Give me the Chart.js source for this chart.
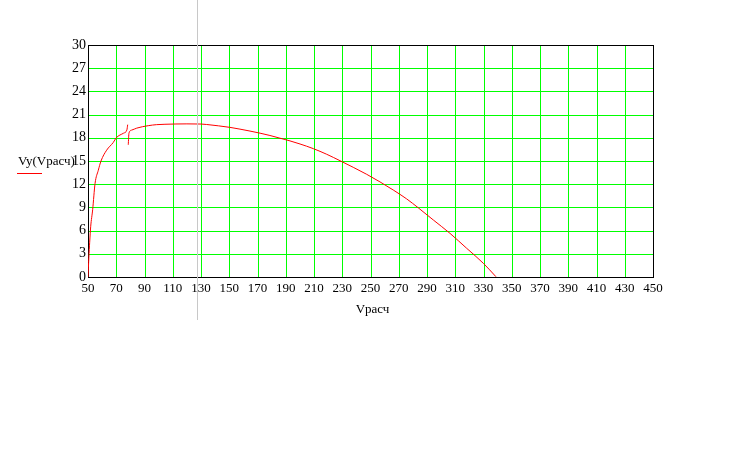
<!DOCTYPE html>
<html>
<head>
<meta charset="utf-8">
<script src="https://cdn.jsdelivr.net/npm/chart.js@4/dist/chart.umd.min.js"></script>
<style>
  body { margin: 0; background: #fff; }
  #wrap { width: 734px; height: 450px; }
</style>
</head>
<body>
<div id="wrap"><canvas id="grafico" width="734" height="450"></canvas></div>
<script>
// dados: Vy em função de Vрасч (duas partes da curva)
const vRasch1 = [50, 50.6, 51.2, 51.9, 53.3, 55, 57.3, 59.2, 63.2, 67.9, 70, 75.2, 77.5, 78.1];
const vy1     = [0, 2.5, 4.5, 6.5, 8.7, 12.1, 13.8, 15, 16.4, 17.4, 18, 18.6, 19.0, 19.7];

const vRasch2 = [78.5, 79, 81, 84.5, 92.7, 98.6, 104.5, 120, 130, 134, 142.3, 150.5, 157.6, 164.7,
                 171.8, 178.8, 185.9, 193, 200.1, 209.5, 219, 228.4, 237.8, 247.3, 256.7, 266.1,
                 275.6, 283.8, 294.5, 306.3, 318.1, 329.9, 338.8];
const vy2     = [17.1, 18.6, 19.0, 19.25, 19.57, 19.7, 19.75, 19.8, 19.78, 19.72, 19.55, 19.35, 19.12, 18.87,
                 18.6, 18.3, 17.95, 17.6, 17.2, 16.6, 15.87, 15.04, 14.18, 13.28, 12.3, 11.25,
                 10.1, 8.95, 7.37, 5.64, 3.71, 1.77, 0.04];

// eixos
const xEixo = [50, 450, 20];   // min, max, passo
const yEixo = [0, 30, 3];
const rotuloX = "Vрасч";
const rotuloY = "Vy(Vрасч)";
const cursorV = 127.4; // linha cinza vertical

const pontos = (xs, ys) => xs.map((x, i) => ({ x: x, y: ys[i] }));

// grade verde nítida, moldura preta, rótulos e linha do cursor
const extras = {
    id: 'extras',
    beforeDatasetsDraw(chart) {
        const { ctx, chartArea: a, scales } = chart;
        const L = Math.round(a.left) + 0.5, R = Math.round(a.right) + 0.5;
        const T = Math.round(a.top) + 0.5, B = Math.round(a.bottom) + 0.5;
        ctx.save();
        ctx.lineWidth = 1;
        ctx.strokeStyle = '#00ff00';
        ctx.beginPath();
        scales.x.ticks.forEach(t => {
            const px = Math.round(scales.x.getPixelForValue(t.value)) + 0.5;
            ctx.moveTo(px, T); ctx.lineTo(px, B);
        });
        scales.y.ticks.forEach(t => {
            const py = Math.round(scales.y.getPixelForValue(t.value)) + 0.5;
            ctx.moveTo(L, py); ctx.lineTo(R, py);
        });
        ctx.stroke();
        ctx.strokeStyle = '#000';
        ctx.strokeRect(L, T, R - L, B - T);
        ctx.restore();
    },
    afterDraw(chart) {
        const { ctx, chartArea: a } = chart;
        const xs = chart.scales.x;
        ctx.save();
        // cursor
        const cx = Math.round(xs.getPixelForValue(cursorV)) + 0.5;
        ctx.strokeStyle = '#c8c8c8';
        ctx.lineWidth = 1;
        ctx.beginPath();
        ctx.moveTo(cx, 0);
        ctx.lineTo(cx, a.bottom + 43);
        ctx.stroke();

        // título do eixo x
        ctx.fillStyle = '#000';
        ctx.font = '13px "Liberation Serif"';
        ctx.textAlign = 'center';
        ctx.textBaseline = 'middle';
        ctx.fillText(rotuloX, (a.left + a.right) / 2 + 2, a.bottom + 33);

        // título do eixo y + traço vermelho da legenda
        const ys = chart.scales.y;
        const ty = ys.getPixelForValue(15);
        ctx.textAlign = 'left';
        ctx.font = '13px "Liberation Serif"';
        ctx.fillText(rotuloY, 18, ty + 1);
        ctx.strokeStyle = '#ff0000';
        ctx.beginPath();
        ctx.moveTo(17, Math.round(ty) + 12.5);
        ctx.lineTo(42, Math.round(ty) + 12.5);
        ctx.stroke();
        ctx.restore();
    }
};

const estiloLinha = {
    borderColor: '#ff0000',
    borderWidth: 1,
    pointRadius: 0,
    fill: false,
    cubicInterpolationMode: 'monotone'
};

new Chart(document.getElementById('grafico'), {
    type: 'line',
    data: {
        datasets: [
            Object.assign({ label: rotuloY, data: pontos(vRasch1, vy1) }, estiloLinha),
            Object.assign({ label: rotuloY, data: pontos(vRasch2, vy2) }, estiloLinha)
        ]
    },
    options: {
        responsive: false,
        animation: false,
        layout: { padding: { left: 0, top: 45, right: 81, bottom: 133 } },
        plugins: { legend: { display: false }, tooltip: { enabled: false } },
        scales: {
            x: {
                type: 'linear',
                min: xEixo[0], max: xEixo[1],
                afterFit: s => { s.height = 40; },
                grid: { display: false, drawTicks: false },
                border: { display: false },
                ticks: {
                    stepSize: xEixo[2], padding: 4, color: '#000',
                    maxRotation: 0, autoSkip: false,
                    font: { family: 'Liberation Serif', size: 13 }
                }
            },
            y: {
                min: yEixo[0], max: yEixo[1],
                afterFit: s => { s.width = 88; },
                grid: { display: false, drawTicks: false },
                border: { display: false },
                ticks: {
                    stepSize: yEixo[2], padding: 2, color: '#000',
                    font: { family: 'Liberation Serif', size: 14 }
                }
            }
        }
    },
    plugins: [extras]
});
</script>
</body>
</html>
